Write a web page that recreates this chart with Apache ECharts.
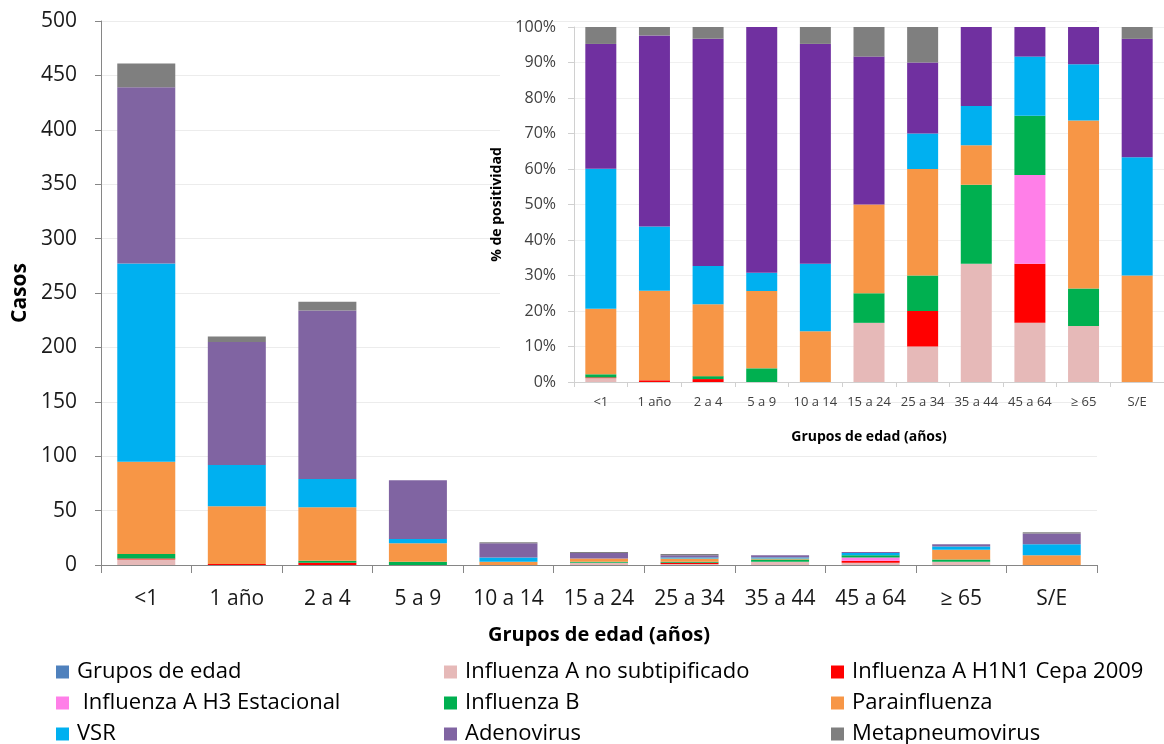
<!DOCTYPE html>
<html>
<head>
<meta charset="utf-8">
<script src="https://cdn.jsdelivr.net/npm/echarts@6/dist/echarts.min.js"></script>
<style>html,body{margin:0;padding:0;background:#fff}#c{width:1164px;height:744px}</style>
</head>
<body>
<div id="c"></div>
<script>
const categories = ['<1', '1 año', '2 a 4', '5 a 9', '10 a 14', '15 a 24', '25 a 34', '35 a 44', '45 a 64', '≥ 65', 'S/E'];
const fluANoSub = [5, 0, 0, 0, 0, 2, 1, 3, 2, 3, 0];
const fluAH1N1 = [1, 1, 2, 0, 0, 0, 1, 0, 2, 0, 0];
const fluAH3 = [0, 0, 0, 0, 0, 0, 0, 0, 3, 0, 0];
const fluB = [4, 0, 2, 3, 0, 1, 1, 2, 2, 2, 0];
const parainfluenza = [85, 53, 49, 17, 3, 3, 3, 1, 0, 9, 9];
const vsr = [182, 38, 26, 4, 4, 0, 1, 1, 2, 3, 10];
const adenovirus = [162, 113, 155, 54, 13, 5, 2, 2, 1, 2, 10];
const metapneumovirus = [22, 5, 8, 0, 1, 1, 1, 0, 0, 0, 1];
const yTicksMain = [0, 500, 50];
const yTicksInset = [0, 100, 10];
const legendRows = [
  ['Grupos de edad', 'Influenza A no subtipificado', 'Influenza A H1N1 Cepa 2009'],
  ['Influenza A H3 Estacional', 'Influenza B', 'Parainfluenza'],
  ['VSR', 'Adenovirus', 'Metapneumovirus']
];

const seriesDefs = [
  {name: 'Influenza A no subtipificado', data: fluANoSub, color: '#E6B9B8', inset: '#E6B9B8'},
  {name: 'Influenza A H1N1 Cepa 2009', data: fluAH1N1, color: '#FF0000', inset: '#FF0000'},
  {name: 'Influenza A H3 Estacional', data: fluAH3, color: '#FF7FE8', inset: '#FF7FE8'},
  {name: 'Influenza B', data: fluB, color: '#00B050', inset: '#00B050'},
  {name: 'Parainfluenza', data: parainfluenza, color: '#F79646', inset: '#F79646'},
  {name: 'VSR', data: vsr, color: '#00B0F0', inset: '#00B0F0'},
  {name: 'Adenovirus', data: adenovirus, color: '#8064A2', inset: '#7030A0'},
  {name: 'Metapneumovirus', data: metapneumovirus, color: '#7F7F7F', inset: '#7F7F7F'}
];
const totals = categories.map((_, i) => seriesDefs.reduce((s, d) => s + d.data[i], 0));

const FONT = 'Open Sans';
const series = [{name: 'Grupos de edad', type: 'bar', data: [], itemStyle: {color: '#4F81BD'}, xAxisIndex: 0, yAxisIndex: 0}];
seriesDefs.forEach(d => {
  series.push({name: d.name, type: 'bar', stack: 'main', barWidth: 58, data: d.data,
    itemStyle: {color: d.color}, xAxisIndex: 0, yAxisIndex: 0, z: 2});
});
seriesDefs.forEach(d => {
  series.push({name: d.name + ' (%)', type: 'bar', stack: 'inset', barWidth: 31,
    data: d.data.map((v, i) => v / totals[i] * 100),
    itemStyle: {color: d.inset}, xAxisIndex: 1, yAxisIndex: 1, z: 10});
});

const colLeft = [56, 444, 831];
const rowTop = [661, 692, 723];
const legends = [];
legendRows.forEach((row, r) => row.forEach((name, c) => {
  legends.push({
    left: colLeft[c], top: rowTop[r], padding: 0, itemWidth: 13, itemHeight: 13, icon: 'rect',
    data: [name],
    textStyle: {fontFamily: FONT, fontSize: 22, color: '#000', lineHeight: 20, padding: [0, 0, 0, 3]},
    formatter: n => n === 'Influenza A H3 Estacional' ? ' ' + n : n
  });
}));

const option = {
  animation: false,
  backgroundColor: '#fff',
  textStyle: {fontFamily: FONT},
  legend: legends,
  grid: [
    {left: 101, top: 21, width: 996, height: 544},
    {left: 574, top: 27, width: 600, height: 355, z: 8}
  ],
  graphic: {
    elements: [{type: 'rect', z: 5, shape: {x: 500, y: 23, width: 665, height: 364}, style: {fill: '#fff'}}]
  },
  xAxis: [
    {type: 'category', gridIndex: 0, data: categories,
      name: 'Grupos de edad (años)', nameLocation: 'middle', nameGap: 60,
      nameTextStyle: {fontFamily: FONT, fontSize: 20, fontWeight: 'bold', color: '#000'},
      axisLine: {lineStyle: {color: '#868686'}},
      axisTick: {show: true, length: 8, lineStyle: {color: '#868686'}},
      axisLabel: {interval: 0, fontFamily: FONT, fontSize: 21, color: '#1a1a1a', margin: 24}},
    {type: 'category', gridIndex: 1, data: categories, z: 8,
      name: 'Grupos de edad (años)', nameLocation: 'middle', nameGap: 48,
      nameTextStyle: {fontFamily: FONT, fontSize: 14, fontWeight: 'bold', color: '#000'},
      axisLine: {lineStyle: {color: '#d0d0d0'}},
      axisTick: {show: true, length: 5, lineStyle: {color: '#d0d0d0'}},
      axisLabel: {interval: 0, fontFamily: FONT, fontSize: 13, color: '#404040', margin: 14}}
  ],
  yAxis: [
    {type: 'value', gridIndex: 0, min: yTicksMain[0], max: yTicksMain[1], interval: yTicksMain[2],
      name: 'Casos', nameLocation: 'middle', nameGap: 60,
      nameTextStyle: {fontFamily: FONT, fontSize: 21, fontWeight: 'bold', color: '#000'},
      axisLine: {show: true, lineStyle: {color: '#868686'}},
      axisTick: {show: true, length: 6, lineStyle: {color: '#868686'}},
      splitLine: {lineStyle: {color: '#ececec'}},
      axisLabel: {fontFamily: FONT, fontSize: 21, color: '#1a1a1a', margin: 24}},
    {type: 'value', gridIndex: 1, min: yTicksInset[0], max: yTicksInset[1], interval: yTicksInset[2], z: 8,
      name: '% de positividad', nameLocation: 'middle', nameGap: 66,
      nameTextStyle: {fontFamily: FONT, fontSize: 14, fontWeight: 'bold', color: '#000'},
      axisLine: {show: true, lineStyle: {color: '#d0d0d0'}},
      axisTick: {show: true, length: 6, lineStyle: {color: '#d0d0d0'}},
      splitLine: {lineStyle: {color: '#f0f0f0'}},
      axisLabel: {fontFamily: FONT, fontSize: 16, color: '#404040', margin: 18, formatter: '{value}%'}}
  ],
  series: series
};

const chart = echarts.init(document.getElementById('c'), null, {renderer: 'canvas'});
chart.setOption(option);
</script>
</body>
</html>
